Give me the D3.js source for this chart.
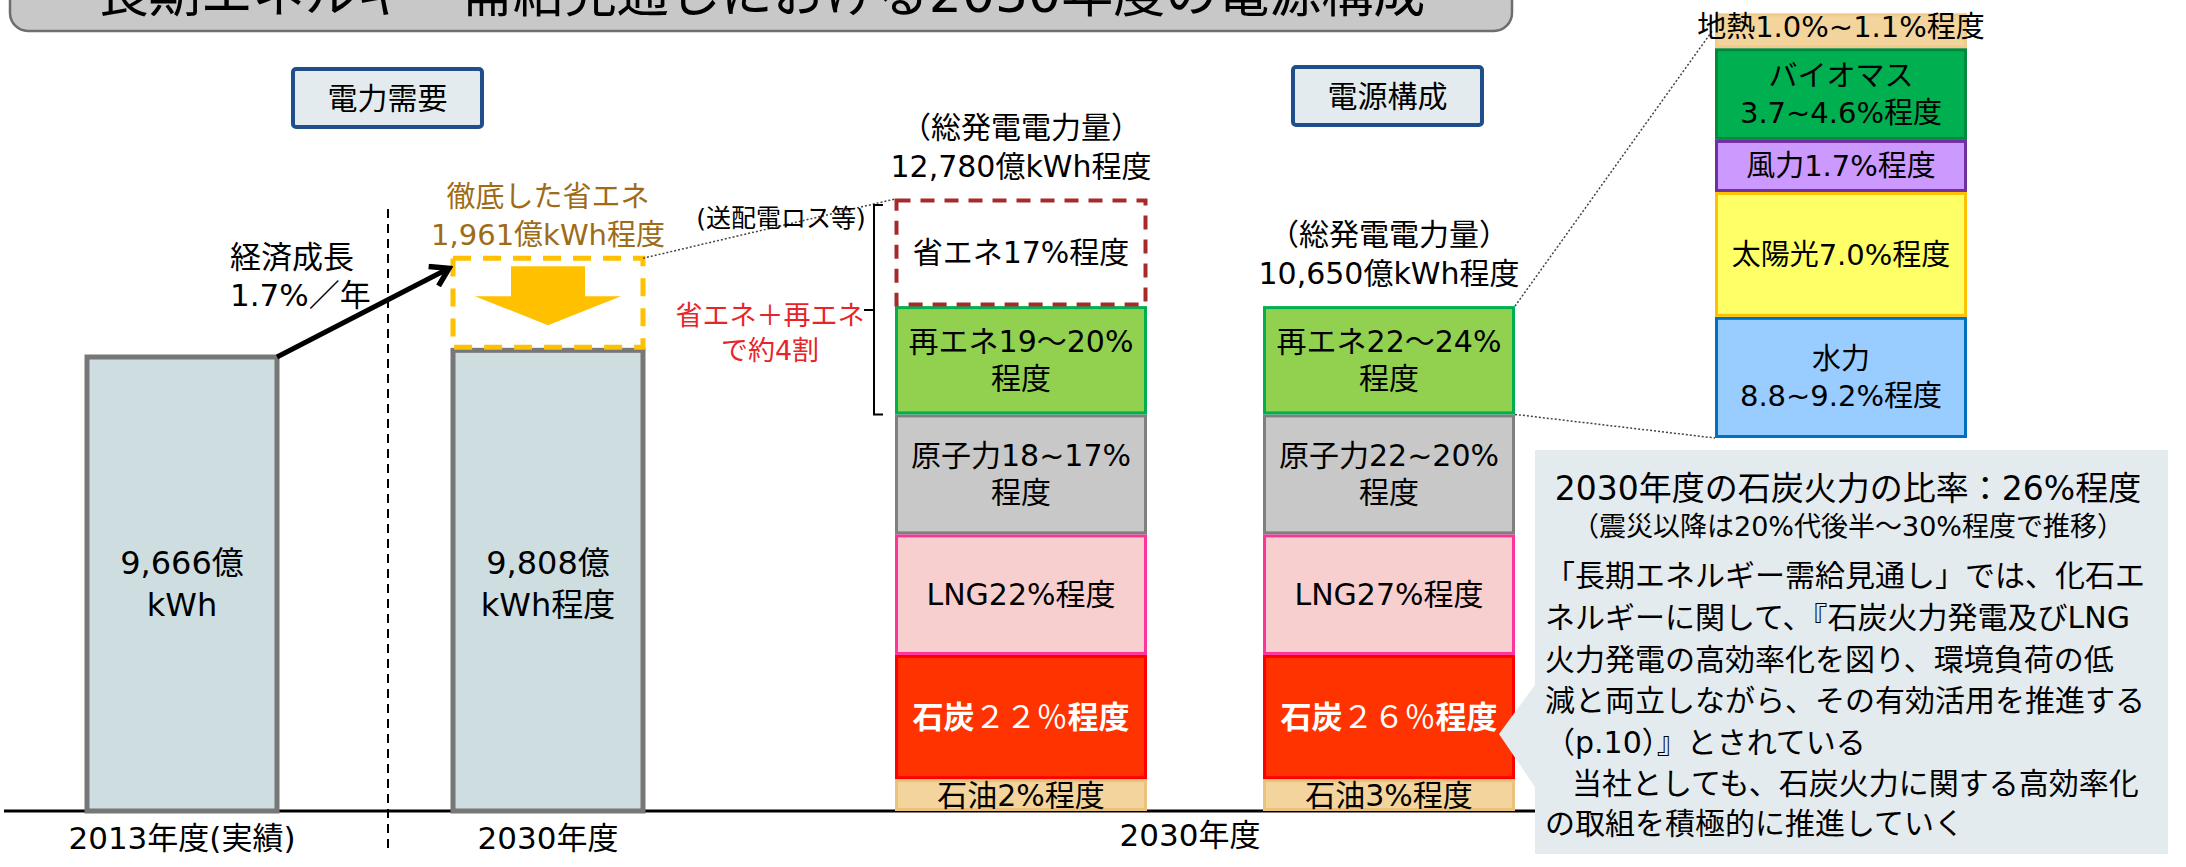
<!DOCTYPE html>
<html>
<head>
<meta charset="utf-8">
<script src="https://cdn.jsdelivr.net/npm/d3@7"></script>
<style>
  body { margin: 0; background: #fff; }
  svg text { font-family: 'DejaVu Sans', 'Noto Sans CJK JP', sans-serif; }
</style>
</head>
<body>
<svg></svg>
<script>
var width = 2186,
    height = 867;

// demand side (億kWh)
var demandCats = ["2013年度(実績)", "2030年度"];
var demandVals = [9666, 9808];
var demandLabels = [["9,666億", "kWh"], ["9,808億", "kWh程度"]];
var savingVal = 1961;

// power mix, drawn height units from the bottom up
var mixCats = ["石油", "石炭", "LNG", "原子力", "再エネ", "省エネ"];
var mixA = [5.2, 20.3, 19.7, 19.6, 17.7, 17.5];
var mixB = [5.2, 20.3, 19.7, 19.6, 17.7];
var mixLabelsA = [["石油2%程度"], ["石炭２２％程度"], ["LNG22%程度"], ["原子力18~17%", "程度"], ["再エネ19～20%", "程度"], ["省エネ17%程度"]];
var mixLabelsB = [["石油3%程度"], ["石炭２６％程度"], ["LNG27%程度"], ["原子力22~20%", "程度"], ["再エネ22～24%", "程度"]];
var totalLabels = ["12,780億kWh程度", "10,650億kWh程度"];

// renewables breakdown, drawn height units from the bottom up
var renCats = ["水力", "太陽光", "風力", "バイオマス", "地熱"];
var renVals = [19.8, 20.4, 8.5, 15.0, 5.7];
var renLabels = [["水力", "8.8~9.2%程度"], ["太陽光7.0%程度"], ["風力1.7%程度"], ["バイオマス", "3.7~4.6%程度"], ["地熱1.0%~1.1%程度"]];

var calloutLines = [
  "2030年度の石炭火力の比率：26%程度",
  "（震災以降は20%代後半～30%程度で推移）",
  "「長期エネルギー需給見通し」では、化石エ",
  "ネルギーに関して、『石炭火力発電及びLNG",
  "火力発電の高効率化を図り、環境負荷の低",
  "減と両立しながら、その有効活用を推進する",
  "（p.10）』とされている",
  "当社としても、石炭火力に関する高効率化",
  "の取組を積極的に推進していく"
];

var mixFill = {"石油": "#F3D49C", "石炭": "#FF3300", "LNG": "#F7CFCF", "原子力": "#C8C8C8", "再エネ": "#92D050", "省エネ": "none"};
var mixStroke = {"石油": "#EBC27C", "石炭": "#FF0000", "LNG": "#FF3399", "原子力": "#7F7F7F", "再エネ": "#00B050", "省エネ": "#A52A2A"};
var renFill = {"水力": "#99CCFF", "太陽光": "#FFFF66", "風力": "#CC99FF", "バイオマス": "#00B050", "地熱": "#F3D49C"};
var renStroke = {"水力": "#0070C0", "太陽光": "#FFC000", "風力": "#7030A0", "バイオマス": "#008A3E", "地熱": "#EFCB8E"};

var svg = d3.select("svg")
    .attr("width", width)
    .attr("height", height);

svg.append("defs").append("marker")
    .attr("id", "head")
    .attr("markerUnits", "userSpaceOnUse")
    .attr("viewBox", "0 0 24 24")
    .attr("refX", 20).attr("refY", 12)
    .attr("markerWidth", 26).attr("markerHeight", 26)
    .attr("orient", "auto")
  .append("path")
    .attr("d", "M4,2 L20,12 L4,22")
    .attr("fill", "none")
    .attr("stroke", "#000")
    .attr("stroke-width", 5)
    .attr("stroke-linejoin", "miter");

var xDemand = d3.scalePoint().domain(demandCats).range([182, 548]),
    yDemand = d3.scaleLinear().domain([0, 9666]).range([811, 357]),
    xMix = d3.scalePoint().domain(["A", "B"]).range([1021, 1389]),
    yMix = d3.scaleLinear().domain([0, 100]).range([811, 199]),
    xRen = 1841,
    yRen = d3.scaleLinear().domain([0, 100]).range([438, -174]);

var demandW = 190, mixW = 252;

// title box (cut off at the top)
svg.append("rect")
    .attr("x", 10).attr("y", -40)
    .attr("width", 1502).attr("height", 71)
    .attr("rx", 18)
    .attr("fill", "#C8C8C8")
    .attr("stroke", "#6E6E6E")
    .attr("stroke-width", 2.5);
svg.append("text")
    .attr("x", 761).attr("y", 12)
    .attr("text-anchor", "middle")
    .attr("font-size", 52)
    .text("長期エネルギー需給見通しにおける2030年度の電源構成");

// section headers
[{t: "電力需要", x: 293, y: 69}, {t: "電源構成", x: 1293, y: 67}].forEach(function(h) {
  svg.append("rect")
      .attr("x", h.x).attr("y", h.y)
      .attr("width", 189).attr("height", 58)
      .attr("rx", 3)
      .attr("fill", "#E4EBEE")
      .attr("stroke", "#1F4E8C")
      .attr("stroke-width", 4);
  svg.append("text")
      .attr("x", h.x + 94.5).attr("y", h.y + 29)
      .attr("dy", "0.35em")
      .attr("text-anchor", "middle")
      .attr("font-size", 30)
      .text(h.t);
});

// baseline and separator
svg.append("line")
    .attr("x1", 4).attr("x2", 1535)
    .attr("y1", yDemand(0)).attr("y2", yDemand(0))
    .attr("stroke", "#000").attr("stroke-width", 3);
svg.append("line")
    .attr("x1", 388).attr("x2", 388)
    .attr("y1", 209).attr("y2", 848)
    .attr("stroke", "#000").attr("stroke-width", 2)
    .attr("stroke-dasharray", "9,6");

// demand bars
svg.selectAll(".demand")
    .data(demandVals)
  .enter().append("rect")
    .attr("class", "demand")
    .attr("x", function(d, i) { return xDemand(demandCats[i]) - demandW / 2; })
    .attr("y", function(d) { return yDemand(d); })
    .attr("width", demandW)
    .attr("height", function(d) { return yDemand(0) - yDemand(d); })
    .attr("fill", "#CDDDE0")
    .attr("stroke", "#777")
    .attr("stroke-width", 5);

demandLabels.forEach(function(lines, i) {
  var t = svg.append("text")
      .attr("text-anchor", "middle")
      .attr("font-size", 32);
  lines.forEach(function(s, j) {
    t.append("tspan")
        .attr("x", xDemand(demandCats[i]))
        .attr("y", 563 + j * 42)
        .attr("dy", "0.35em")
        .text(s);
  });
});

svg.selectAll(".cat")
    .data(demandCats)
  .enter().append("text")
    .attr("x", function(d) { return xDemand(d); })
    .attr("y", 838)
    .attr("dy", "0.35em")
    .attr("text-anchor", "middle")
    .attr("font-size", 31)
    .text(function(d) { return d; });

// energy saving box with arrow
var c2 = demandCats[1],
    saveTop = yDemand(demandVals[1] + savingVal),
    cx2 = xDemand(c2);
svg.append("rect")
    .attr("x", cx2 - demandW / 2).attr("y", saveTop)
    .attr("width", demandW)
    .attr("height", yDemand(demandVals[1]) - saveTop - 3)
    .attr("fill", "none")
    .attr("stroke", "#FFC000")
    .attr("stroke-width", 5)
    .attr("stroke-dasharray", "18,12");
svg.append("path")
    .attr("d", "M" + (cx2 - 37) + "," + (saveTop + 8)
      + "H" + (cx2 + 37) + "V" + (saveTop + 38)
      + "H" + (cx2 + 73) + "L" + cx2 + "," + (saveTop + 67)
      + "L" + (cx2 - 73) + "," + (saveTop + 38)
      + "H" + (cx2 - 37) + "Z")
    .attr("fill", "#FFC000");

svg.append("text")
    .attr("text-anchor", "middle")
    .attr("font-size", 29)
    .attr("fill", "#9E6B17")
  .selectAll("tspan")
    .data(["徹底した省エネ", d3.format(",")(savingVal) + "億kWh程度"])
  .enter().append("tspan")
    .attr("x", cx2)
    .attr("y", function(d, i) { return 197 + i * 38; })
    .attr("dy", "0.35em")
    .text(function(d) { return d; });

// growth arrow
var c1 = demandCats[0];
svg.append("line")
    .attr("x1", xDemand(c1) + demandW / 2).attr("y1", yDemand(demandVals[0]))
    .attr("x2", cx2 - demandW / 2 - 4).attr("y2", saveTop + 10)
    .attr("stroke", "#000")
    .attr("stroke-width", 5)
    .attr("marker-end", "url(#head)");
svg.append("text")
    .attr("font-size", 31)
  .selectAll("tspan")
    .data(["経済成長", "1.7%／年"])
  .enter().append("tspan")
    .attr("x", 230)
    .attr("y", function(d, i) { return 257 + i * 38; })
    .attr("dy", "0.35em")
    .text(function(d) { return d; });

// dotted connector from saving box to mix A
var mixTopA = yMix(d3.sum(mixA));
svg.append("line")
    .attr("x1", cx2 + demandW / 2).attr("y1", saveTop)
    .attr("x2", xMix("A") - mixW / 2).attr("y2", mixTopA)
    .attr("stroke", "#444").attr("stroke-width", 1.5)
    .attr("stroke-dasharray", "2,2");

// stacked mixes
function drawStack(key, vals, labels) {
  var cum = [0].concat(Array.from(d3.cumsum(vals)));
  var cx = xMix(key);
  var g = svg.append("g");
  vals.forEach(function(v, i) {
    var cat = mixCats[i],
        y0 = yMix(cum[i]), y1 = yMix(cum[i + 1]);
    var r = g.append("rect")
        .attr("x", cx - mixW / 2 + 1.5)
        .attr("y", y1 + 1.5)
        .attr("width", mixW - 3)
        .attr("height", y0 - y1 - 3)
        .attr("fill", mixFill[cat])
        .attr("stroke", mixStroke[cat])
        .attr("stroke-width", 3);
    if (cat === "省エネ") {
      r.attr("stroke-width", 4).attr("stroke-dasharray", "14,10");
    }
    var lines = labels[i],
        mid = (y0 + y1) / 2;
    var t = g.append("text")
        .attr("text-anchor", "middle")
        .attr("font-size", 30);
    if (cat === "石炭") {
      var s = lines[0];
      t.attr("fill", "#fff")
          .attr("font-size", 31)
          .attr("x", cx).attr("y", mid).attr("dy", "0.35em");
      t.append("tspan").attr("font-weight", "bold").text(s.slice(0, 2));
      t.append("tspan").attr("font-family", "'Noto Sans CJK JP'").text(s.slice(2, 5));
      t.append("tspan").attr("font-weight", "bold").text(s.slice(5));
    } else {
      lines.forEach(function(s, j) {
        t.append("tspan")
            .attr("x", cx)
            .attr("y", mid + (j - (lines.length - 1) / 2) * 37)
            .attr("dy", "0.35em")
            .text(s);
      });
    }
  });
  return cum;
}
var cumA = drawStack("A", mixA, mixLabelsA);
var cumB = drawStack("B", mixB, mixLabelsB);

// totals above stacks
[["A", cumA[cumA.length - 1]], ["B", cumB[cumB.length - 1]]].forEach(function(p, i) {
  var top = yMix(p[1]);
  svg.append("text")
      .attr("text-anchor", "middle")
      .attr("font-size", 30)
    .selectAll("tspan")
      .data(["（総発電電力量）", totalLabels[i]])
    .enter().append("tspan")
      .attr("x", xMix(p[0]))
      .attr("y", function(d, j) { return top - 72 + j * 39; })
      .attr("dy", "0.35em")
      .text(function(d) { return d; });
});

svg.append("text")
    .attr("x", 781).attr("y", 218)
    .attr("dy", "0.35em")
    .attr("text-anchor", "middle")
    .attr("font-size", 25)
    .text("(送配電ロス等)");

// brace over saving + renewables
var bx = xMix("A") - mixW / 2 - 21,
    bTop = yMix(cumA[6]) + 6,
    bBot = yMix(cumA[4]),
    bMid = yMix(cumA[5]) + 4;
svg.append("path")
    .attr("d", "M" + (bx + 9) + "," + bTop + "H" + bx + "V" + bBot + "H" + (bx + 9)
      + "M" + bx + "," + bMid + "H" + (bx - 10))
    .attr("fill", "none")
    .attr("stroke", "#000")
    .attr("stroke-width", 2);
svg.append("text")
    .attr("text-anchor", "middle")
    .attr("font-size", 27)
    .attr("fill", "#E8242B")
  .selectAll("tspan")
    .data(["省エネ＋再エネ", "で約4割"])
  .enter().append("tspan")
    .attr("x", 770)
    .attr("y", function(d, i) { return bMid + 5 + i * 35; })
    .attr("dy", "0.35em")
    .text(function(d) { return d; });

// renewables breakdown
var renCum = [0].concat(Array.from(d3.cumsum(renVals)));
var renTopB = yMix(cumB[5]), renBotB = yMix(cumB[4]);
svg.append("line")
    .attr("x1", xMix("B") + mixW / 2).attr("y1", renTopB)
    .attr("x2", xRen - mixW / 2 - 3).attr("y2", yRen(renCum[5]) + 18)
    .attr("stroke", "#444").attr("stroke-width", 1.5)
    .attr("stroke-dasharray", "2,2");
svg.append("line")
    .attr("x1", xMix("B") + mixW / 2).attr("y1", renBotB)
    .attr("x2", xRen - mixW / 2).attr("y2", yRen(0))
    .attr("stroke", "#444").attr("stroke-width", 1.5)
    .attr("stroke-dasharray", "2,2");

renVals.forEach(function(v, i) {
  var cat = renCats[i],
      y0 = yRen(renCum[i]), y1 = yRen(renCum[i + 1]);
  svg.append("rect")
      .attr("x", xRen - mixW / 2 + 1.5)
      .attr("y", y1 + 1.5)
      .attr("width", mixW - 3)
      .attr("height", y0 - y1 - 3)
      .attr("fill", renFill[cat])
      .attr("stroke", renStroke[cat])
      .attr("stroke-width", 3);
  var lines = renLabels[i],
      mid = (y0 + y1) / 2;
  if (cat === "地熱") mid -= 4;
  var t = svg.append("text")
      .attr("text-anchor", "middle")
      .attr("font-size", 29);
  lines.forEach(function(s, j) {
    t.append("tspan")
        .attr("x", xRen)
        .attr("y", mid + (j - (lines.length - 1) / 2) * 37)
        .attr("dy", "0.35em")
        .text(s);
  });
});

// callout
svg.append("path")
    .attr("d", "M1535,450H2168V854H1535V787L1499,734L1535,685Z")
    .attr("fill", "#E4EBEE");

var callY = [488, 527, 575, 617, 659, 700, 742, 783, 823];
var callSize = [33, 27, 30, 30, 30, 30, 30, 30, 30];
calloutLines.forEach(function(s, i) {
  var t = svg.append("text")
      .attr("y", callY[i])
      .attr("dy", "0.35em")
      .attr("font-size", callSize[i])
      .text(s);
  if (i < 2) {
    t.attr("x", 1848).attr("text-anchor", "middle");
  } else {
    t.attr("x", i === 7 ? 1572 : 1545);
  }
});

svg.append("text")
    .attr("x", xMix.range()[0] + (xMix.range()[1] - xMix.range()[0]) / 2 - 15)
    .attr("y", 835)
    .attr("dy", "0.35em")
    .attr("text-anchor", "middle")
    .attr("font-size", 31)
    .text("2030年度");
</script>
</body>
</html>
